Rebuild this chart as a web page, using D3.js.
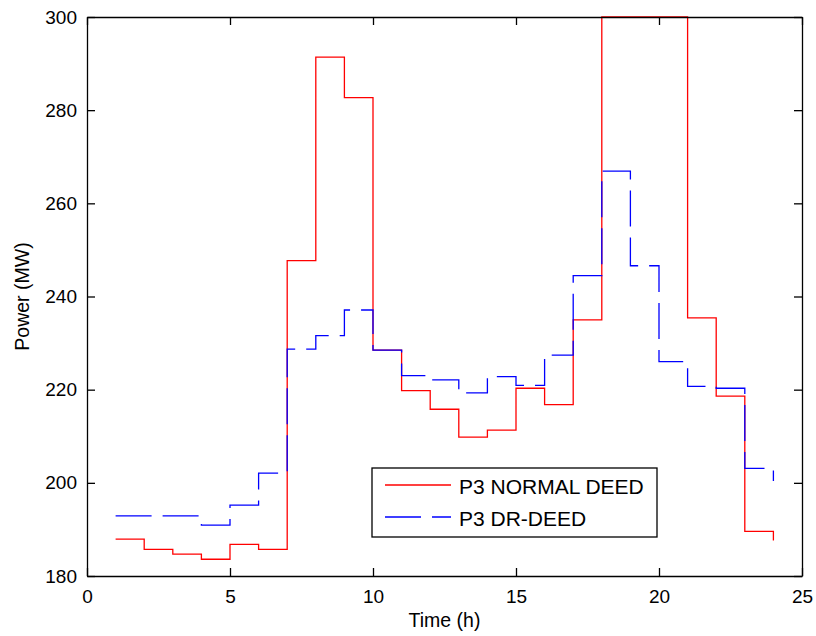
<!DOCTYPE html>
<html lang="en">

<head>
	<meta charset="utf-8">
	<title>P3 power, normal DEED vs DR-DEED</title>
	<script type="text/javascript" src="https://cdn.jsdelivr.net/npm/d3@7"></script>
	<style type="text/css">
		body {
			margin: 0;
			background: #fff;
		}

		.axis path,
		.axis line {
			stroke: #000;
			stroke-width: 1.3px;
		}

		.axis text {
			font-family: "Liberation Sans", Arial, sans-serif;
			font-size: 19px;
			fill: #000;
		}
	</style>
</head>

<body>
	<script type="text/javascript">
		//Width and height
		var w = 816;
		var h = 636;
		var margin = { top: 17, right: 14, bottom: 60, left: 87 };

		// hours and the two series
		var hours = d3.range(1, 25);
		var normalDeed = [187.9, 185.7, 184.7, 183.6, 186.8, 185.7, 247.7, 291.4, 282.7, 228.5, 219.8, 215.8,
			209.8, 211.3, 220.3, 216.8, 235.0, 300.0, 300.0, 300.0, 235.4, 218.6, 189.6, 187.6];
		var drDeed = [192.9, 192.9, 192.9, 190.9, 195.2, 202.1, 228.7, 231.6, 237.1, 228.5, 223.0, 222.1,
			219.3, 222.8, 220.9, 227.4, 244.5, 266.9, 246.6, 226.0, 220.7, 220.3, 203.1, 200.4];
		var xTicks = [0, 5, 10, 15, 20, 25];
		var yTicks = [180, 200, 220, 240, 260, 280, 300];
		var seriesNames = ["P3 NORMAL DEED", "P3 DR-DEED"];

		var x0 = margin.left, x1 = w - margin.right;
		var y0 = h - margin.bottom, y1 = margin.top;

		//Create scale functions
		var xScale = d3.scaleLinear().domain([0, 25]).range([x0, x1]);
		var yScale = d3.scaleLinear().domain([180, 300]).range([y0, y1]);

		//Create SVG element
		var svg = d3.select("body")
			.append("svg")
			.attr("width", w)
			.attr("height", h);

		svg.append("clipPath")
			.attr("id", "plot-clip")
			.append("rect")
			.attr("x", x0)
			.attr("y", y1 - 1)
			.attr("width", x1 - x0)
			.attr("height", y0 - y1 + 2);

		// stairs
		var stairs = function (vals) {
			return d3.line()
				.x(function (d, i) { return xScale(hours[i]); })
				.y(function (d) { return yScale(d); })
				.curve(d3.curveStepAfter)(vals);
		};

		var plot = svg.append("g").attr("clip-path", "url(#plot-clip)");

		plot.append("path")
			.attr("d", stairs(normalDeed))
			.attr("fill", "none")
			.attr("stroke", "#ff0000")
			.attr("stroke-width", 1.3);

		plot.append("path")
			.attr("d", stairs(drDeed))
			.attr("fill", "none")
			.attr("stroke", "#0000ff")
			.attr("stroke-width", 1.3)
			.attr("stroke-dasharray", "36,11");

		// axes, ticks point inward like matlab
		var xAxis = d3.axisBottom(xScale).tickValues(xTicks).tickSizeInner(-8).tickSizeOuter(0).tickPadding(14);
		var yAxis = d3.axisLeft(yScale).tickValues(yTicks).tickSizeInner(-8).tickSizeOuter(0).tickPadding(10);
		var xAxisTop = d3.axisTop(xScale).tickValues(xTicks).tickSizeInner(-8).tickSizeOuter(0).tickFormat("");
		var yAxisRight = d3.axisRight(yScale).tickValues(yTicks).tickSizeInner(-8).tickSizeOuter(0).tickFormat("");

		svg.append("g")
			.attr("class", "axis")
			.attr("transform", "translate(0," + y0 + ")")
			.call(xAxis);

		svg.append("g")
			.attr("class", "axis")
			.attr("transform", "translate(" + x0 + ",0)")
			.call(yAxis);

		svg.append("g")
			.attr("class", "axis")
			.attr("transform", "translate(0," + y1 + ")")
			.call(xAxisTop);

		svg.append("g")
			.attr("class", "axis")
			.attr("transform", "translate(" + x1 + ",0)")
			.call(yAxisRight);

		// axis titles
		svg.append("text")
			.attr("x", (x0 + x1) / 2)
			.attr("y", 627)
			.attr("text-anchor", "middle")
			.attr("font-family", "'Liberation Sans', Arial, sans-serif")
			.attr("font-size", "19.5px")
			.text("Time (h)");

		svg.append("text")
			.attr("transform", "translate(29," + ((y0 + y1) / 2) + ") rotate(-90)")
			.attr("text-anchor", "middle")
			.attr("font-family", "'Liberation Sans', Arial, sans-serif")
			.attr("font-size", "19.5px")
			.text("Power (MW)");

		// legend
		var legend = svg.append("g").attr("transform", "translate(372,468)");

		legend.append("rect")
			.attr("width", 285)
			.attr("height", 69)
			.attr("fill", "#fff")
			.attr("stroke", "#000")
			.attr("stroke-width", 1.3);

		var legendStyles = [
			{ color: "#ff0000", dash: null },
			{ color: "#0000ff", dash: "36,11" }
		];

		seriesNames.forEach(function (name, i) {
			var ly = 17 + i * 32;
			legend.append("line")
				.attr("x1", 13)
				.attr("x2", 79)
				.attr("y1", ly)
				.attr("y2", ly)
				.attr("stroke", legendStyles[i].color)
				.attr("stroke-width", 1.3)
				.attr("stroke-dasharray", legendStyles[i].dash);
			legend.append("text")
				.attr("x", 87)
				.attr("y", ly + 9)
				.attr("font-family", "'Liberation Sans', Arial, sans-serif")
				.attr("font-size", "21px")
				.text(name);
		});

	</script>
</body>

</html>
